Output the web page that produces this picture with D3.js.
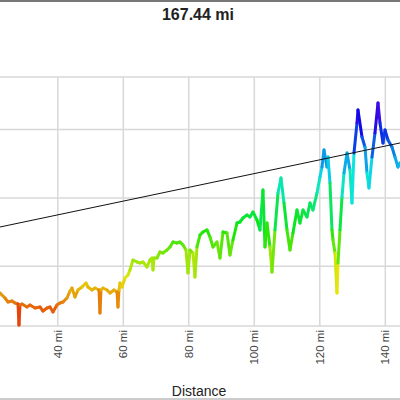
<!DOCTYPE html>
<html>
<head>
<meta charset="utf-8">
<script src="https://cdn.jsdelivr.net/npm/d3@7"></script>
<style>
  body { margin: 0; background: #fff; }
  svg { display: block; font-family: "Liberation Sans", Arial, sans-serif; }
</style>
</head>
<body>
<svg width="400" height="400"></svg>
<script>
// distance along route (mi) and elevation (ft)
var miles = [
  0, 8, 16, 22.50, 24.03, 24.94, 26.16, 27.08, 28.0, 28.30, 28.61, 29.22, 30.74, 31.66, 33.19, 34.71,
  35.63, 36.85, 37.77, 38.68, 39.90, 40.82, 41.74, 42.96, 43.87, 44.48, 45.40, 46.32,
  47.54, 48.76, 49.37, 50.59, 51.51, 52.73, 53.03, 53.34, 53.95, 55.17, 56.09, 57.31,
  58.22, 58.53, 58.84, 59.14, 59.75, 60.67, 61.58, 62.19, 63.11, 64.33, 65.25, 66.16,
  67.38, 68.30, 68.91, 69.22, 69.52, 70.44, 71.35, 72.27, 73.49, 74.41, 75.32, 76.55,
  77.46, 78.38, 79.29, 79.90, 80.52, 81.43, 82.04, 82.65, 83.57, 84.48, 85.71, 86.62,
  87.54, 88.76, 89.67, 90.59, 91.81, 92.73, 93.64, 94.87, 95.78, 96.70, 97.92, 98.84,
  99.75, 100.97, 101.89, 102.80, 103.42, 104.03, 104.94, 105.55, 106.47, 107.39, 108.30, 109.22,
  110.13, 111.05, 111.96, 113.19, 114.10, 115.02, 116.24, 117.16, 118.07, 119.29, 120.21, 120.82,
  121.43, 122.35, 122.65, 123.26, 123.87, 124.18, 124.79, 125.40, 125.71, 126.32, 126.93, 127.54,
  128.46, 129.37, 129.98, 130.59, 131.51, 131.81, 133.04, 133.95, 134.56, 135.17, 136.09, 137.00,
  137.92, 138.53, 139.45, 140.06, 140.97, 142.19, 143.11, 144.03, 144.64, 150, 158, 167.44
];
var feet = [
  950, 780, 690, 602, 529, 471, 486, 456, 442, 135, 427, 442, 398, 427, 383, 398,
  339, 383, 398, 325, 427, 456, 471, 529, 632, 676, 544, 646,
  690, 749, 690, 646, 676, 646, 310, 646, 676, 646, 602, 646,
  617, 398, 646, 749, 690, 822, 866, 939, 1085, 1056, 1041, 1056,
  983, 1085, 1114, 939, 1114, 1114, 1202, 1187, 1231, 1275, 1348, 1333,
  1348, 1304, 1231, 895, 1231, 1187, 836, 1275, 1450, 1494, 1524, 1421,
  1275, 1348, 1114, 1494, 1480, 1158, 1377, 1626, 1640, 1699, 1743, 1714,
  1787, 1670, 1524, 2108, 1275, 1626, 1275, 909, 1524, 2064, 2284, 1918,
  1524, 1231, 1480, 1816, 1626, 1816, 1714, 1918, 1816, 2064, 2298, 2445,
  2693, 2445, 2591, 2211, 1524, 1377, 1187, 602, 1041, 1524, 2006, 2357,
  2649, 2401, 1918, 2649, 3088, 3278, 2883, 2737, 2357, 2138, 2591, 2942,
  3380, 3088, 2795, 2986, 2839, 2737, 2591, 2445, 2503, 2400, 2300, 2250
];
var trendMiles = [0, 167.44];
var trendFeet = [1341, 3025];
var xTicks = [40, 60, 80, 100, 120, 140];
var yTicks = [1000, 2000, 3000];
var totalMiles = 167.44;

var svg = d3.select("svg"),
    plotTop = 77, plotBottom = 326,
    x0 = -73.7, pxPerMile = 3.275;

var x = d3.scaleLinear().domain([0, totalMiles]).range([x0, x0 + totalMiles * pxPerMile]),
    y = d3.scaleLinear().domain([120, 3760]).range([plotBottom, plotTop]);

var hue = d3.scaleLinear()
    .domain([d3.min(feet), d3.max(feet)])
    .range([4, 266]);

function colorFor(e) {
  return d3.hsl(hue(e), 0.92, 0.47).toString();
}

// Y gridlines
svg.append("g")
    .attr("class", "grid")
    .attr("transform", "translate(" + x.range()[0] + ",0)")
    .call(d3.axisLeft(y).tickValues(yTicks).tickSize(-(x.range()[1] - x.range()[0])).tickFormat(""))
    .call(function(g) { g.select(".domain").remove(); })
    .selectAll("line").attr("stroke", "#d8d8d8").attr("stroke-width", 1.5);

// X axis with gridlines
var xAxis = svg.append("g")
    .attr("transform", "translate(0," + plotBottom + ")")
    .call(d3.axisBottom(x).tickValues(xTicks).tickSize(-(plotBottom - plotTop)).tickFormat(function(d) { return d + " mi"; }));
xAxis.select(".domain").remove();
xAxis.selectAll("line").attr("stroke", "#d8d8d8").attr("stroke-width", 1.5);
xAxis.selectAll("text")
    .attr("transform", "rotate(-90)")
    .attr("x", -4)
    .attr("y", 0)
    .attr("dy", "0.35em")
    .style("text-anchor", "end")
    .style("font-size", "11.5px")
    .attr("fill", "#444");

// plot frame
svg.append("rect")
    .attr("x", x.range()[0])
    .attr("y", plotTop)
    .attr("width", x.range()[1] - x.range()[0])
    .attr("height", plotBottom - plotTop)
    .attr("fill", "none")
    .attr("stroke", "#d8d8d8")
    .attr("stroke-width", 1.5);

// elevation profile, one segment per pair coloured by height
var pts = miles.map(function(m, i) { return {d: m, e: feet[i]}; });
svg.append("g")
    .selectAll("line")
    .data(d3.pairs(pts))
    .enter().append("line")
    .attr("x1", function(p) { return x(p[0].d); })
    .attr("y1", function(p) { return y(p[0].e); })
    .attr("x2", function(p) { return x(p[1].d); })
    .attr("y2", function(p) { return y(p[1].e); })
    .attr("stroke", function(p) { return colorFor((p[0].e + p[1].e) / 2); })
    .attr("stroke-width", 3)
    .attr("stroke-linecap", "round");

// trend line
svg.append("path")
    .datum(trendMiles.map(function(m, i) { return {d: m, e: trendFeet[i]}; }))
    .attr("fill", "none")
    .attr("stroke", "#111")
    .attr("stroke-width", 1)
    .attr("d", d3.line().x(function(d) { return x(d.d); }).y(function(d) { return y(d.e); }));

// title + axis label
svg.append("text")
    .attr("x", 198)
    .attr("y", 20)
    .attr("text-anchor", "middle")
    .style("font-size", "16px")
    .style("font-weight", "bold")
    .attr("fill", "#222")
    .text(totalMiles + " mi");

svg.append("text")
    .attr("x", 199)
    .attr("y", 396)
    .attr("text-anchor", "middle")
    .style("font-size", "14px")
    .attr("fill", "#222")
    .text("Distance");

// outer borders
svg.append("line").attr("x1", 0).attr("x2", 400).attr("y1", 1).attr("y2", 1)
    .attr("stroke", "#777").attr("stroke-width", 2);
svg.append("line").attr("x1", 0).attr("x2", 400).attr("y1", 399).attr("y2", 399)
    .attr("stroke", "#ccc").attr("stroke-width", 2);
</script>
</body>
</html>
